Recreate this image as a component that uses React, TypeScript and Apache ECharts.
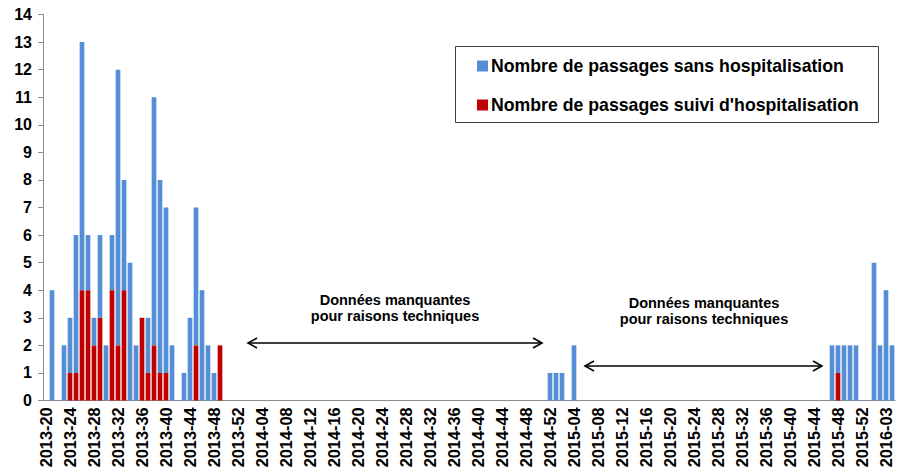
import React, { useEffect, useRef } from "react";
import * as echarts from "echarts";

// Weekly ranges covered on the category axis
const years = [2013, 2014, 2015, 2016];
const firstWeek = [20, 1, 1, 1];
const lastWeek = [52, 52, 53, 4];

// Passages without hospitalisation (stacked on top), per ISO week
const sans2013 = [
  0, 4, 0, 2, 2, 5, 9, 2, 1, 3,
  2, 2, 10, 4, 5, 2, 0, 2, 9, 7,
  6, 2, 0, 1, 3, 5, 4, 2, 1, 0,
  0, 0, 0,
];
const sans2014 = [
  null, null, null, null, null, null, null, null, null, null,
  null, null, null, null, null, null, null, null, null, null,
  null, null, null, null, null, null, null, null, null, null,
  null, null, null, null, null, null, null, null, null, null,
  null, null, null, null, null, null, null, null, null, null,
  null, 1,
];
const sans2015 = [
  1, 1, 0, 2,
  null, null, null, null, null, null, null, null, null, null,
  null, null, null, null, null, null, null, null, null, null,
  null, null, null, null, null, null, null, null, null, null,
  null, null, null, null, null, null, null, null, null, null,
  null, null,
  2, 1, 2, 2, 2, 0, 0,
];
const sans2016 = [5, 2, 4, 2];

// Passages followed by hospitalisation (bottom of each stack)
const hosp2013 = [
  0, 0, 0, 0, 1, 1, 4, 4, 2, 3,
  0, 4, 2, 4, 0, 0, 3, 1, 2, 1,
  1, 0, 0, 0, 0, 2, 0, 0, 0, 2,
  0, 0, 0,
];
const hosp2014 = [
  null, null, null, null, null, null, null, null, null, null,
  null, null, null, null, null, null, null, null, null, null,
  null, null, null, null, null, null, null, null, null, null,
  null, null, null, null, null, null, null, null, null, null,
  null, null, null, null, null, null, null, null, null, null,
  null, 0,
];
const hosp2015 = [
  0, 0, 0, 0,
  null, null, null, null, null, null, null, null, null, null,
  null, null, null, null, null, null, null, null, null, null,
  null, null, null, null, null, null, null, null, null, null,
  null, null, null, null, null, null, null, null, null, null,
  null, null,
  0, 1, 0, 0, 0, 0, 0,
];
const hosp2016 = [0, 0, 0, 0];

const seriesNames = [
  "Nombre de passages sans hospitalisation",
  "Nombre de passages suivi d'hospitalisation",
];
const annotationLines = ["Données manquantes", "pour raisons techniques"];

const BLUE = "#558ED5";
const RED = "#C00000";
const AXIS_GREY = "#8C8C8C";
const FONT = 'Arial, "Liberation Sans", sans-serif';

function weekLabels(): string[] {
  const out: string[] = [];
  years.forEach((y, i) => {
    for (let w = firstWeek[i]; w <= lastWeek[i]; w++) {
      out.push(`${y}-${String(w).padStart(2, "0")}`);
    }
  });
  return out;
}

// Horizontal double-headed arrow with open chevron heads
function doubleArrow(x1: number, x2: number, y: number) {
  const hl = 9;
  const hh = 5;
  const stroke = { stroke: "#000", lineWidth: 1.6, fill: null };
  return {
    type: "group",
    children: [
      { type: "line", shape: { x1, y1: y, x2, y2: y }, style: stroke },
      {
        type: "polyline",
        shape: { points: [[x1 + hl, y - hh], [x1, y], [x1 + hl, y + hh]] },
        style: stroke,
      },
      {
        type: "polyline",
        shape: { points: [[x2 - hl, y - hh], [x2, y], [x2 - hl, y + hh]] },
        style: stroke,
      },
    ],
  };
}

function annotation(cx: number, y1: number, y2: number) {
  const base = {
    fill: "#000",
    fontFamily: FONT,
    fontWeight: "bold",
    fontSize: 14.5,
    textAlign: "center",
    textVerticalAlign: "middle",
  };
  return [
    { type: "text", style: { ...base, text: annotationLines[0], x: cx, y: y1 } },
    { type: "text", style: { ...base, text: annotationLines[1], x: cx, y: y2 } },
  ];
}

export default function App() {
  const ref = useRef<HTMLDivElement>(null);

  useEffect(() => {
    if (!ref.current) return;
    const chart = echarts.init(ref.current, undefined, { renderer: "svg" });

    const categories = weekLabels();
    const sans = [...sans2013, ...sans2014, ...sans2015, ...sans2016];
    const hosp = [...hosp2013, ...hosp2014, ...hosp2015, ...hosp2016];

    chart.setOption({
      animation: false,
      backgroundColor: "#fff",
      grid: { left: 43, right: 4, top: 14.5, bottom: 73.5, containLabel: false },
      legend: {
        data: [seriesNames[0], seriesNames[1]],
        orient: "vertical",
        left: 477,
        top: 56,
        padding: 0,
        itemGap: 19,
        itemWidth: 11,
        itemHeight: 11,
        icon: "rect",
        textStyle: {
          fontFamily: FONT,
          fontWeight: "bold",
          fontSize: 17.7,
          color: "#000",
          lineHeight: 20,
          padding: [0, 0, 0, -2],
        },
      },
      xAxis: {
        type: "category",
        data: categories,
        boundaryGap: true,
        axisLine: { lineStyle: { color: AXIS_GREY, width: 1 } },
        axisTick: {
          interval: 0,
          length: 4,
          lineStyle: { color: AXIS_GREY },
        },
        axisLabel: {
          interval: 3,
          rotate: 90,
          margin: 7,
          color: "#000",
          fontFamily: FONT,
          fontWeight: "bold",
          fontSize: 16.3,
        },
        splitLine: { show: false },
      },
      yAxis: {
        type: "value",
        min: 0,
        max: 14,
        interval: 1,
        axisLine: { show: true, lineStyle: { color: AXIS_GREY, width: 1 } },
        axisTick: { show: true, length: 5, lineStyle: { color: AXIS_GREY } },
        axisLabel: {
          margin: 11,
          color: "#000",
          fontFamily: FONT,
          fontWeight: "bold",
          fontSize: 16,
        },
        splitLine: { show: false },
      },
      series: [
        {
          name: seriesNames[1],
          type: "bar",
          stack: "passages",
          data: hosp,
          itemStyle: { color: RED },
          barCategoryGap: "22%",
        },
        {
          name: seriesNames[0],
          type: "bar",
          stack: "passages",
          data: sans,
          itemStyle: { color: BLUE },
          barCategoryGap: "22%",
        },
      ],
      graphic: [
        {
          type: "rect",
          shape: { x: 455.5, y: 46.5, width: 423, height: 76 },
          style: { fill: "none", stroke: "#404040", lineWidth: 1 },
          z: 0,
        },
        ...annotation(395, 300, 316),
        doubleArrow(248, 542, 343),
        ...annotation(704, 303, 319),
        doubleArrow(585, 822, 366),
      ],
    });

    return () => chart.dispose();
  }, []);

  return (
    <div
      ref={ref}
      style={{ position: "absolute", left: 0, top: 0, width: 899, height: 474 }}
    />
  );
}
